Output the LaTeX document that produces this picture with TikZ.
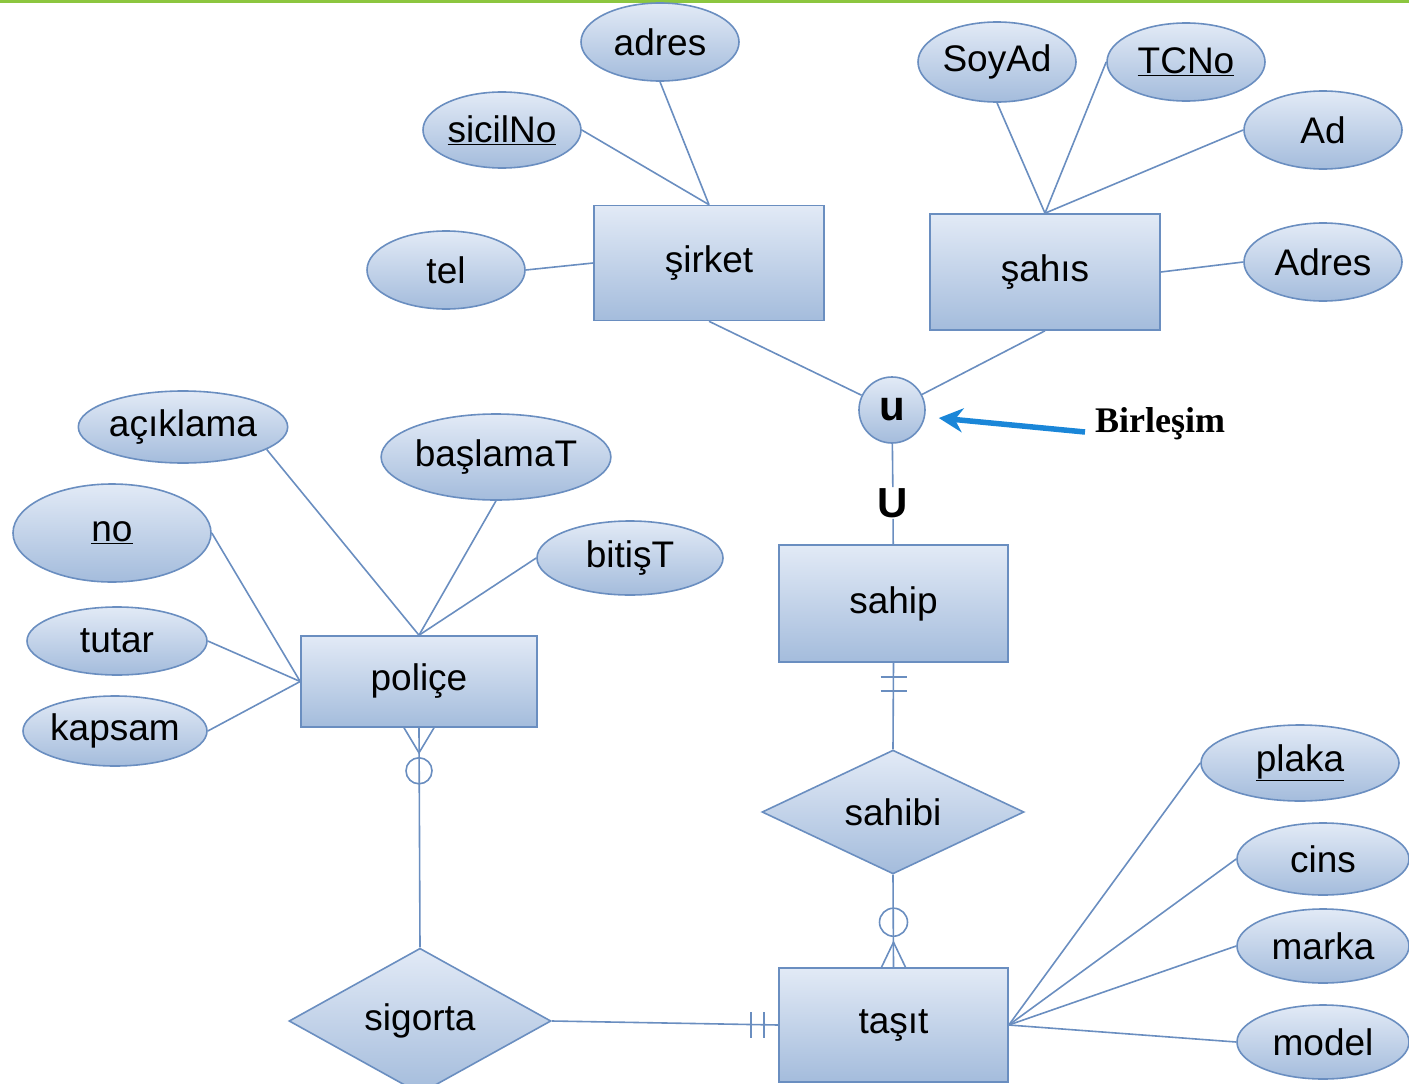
\documentclass[tikz,border=0pt]{standalone}
\usepackage{fontspec}
\setmainfont{Liberation Sans}
\newfontfamily\birfont{Liberation Serif}
\usetikzlibrary{shapes.geometric,arrows.meta}

\definecolor{erTop}{HTML}{E2EAF6}
\definecolor{erBot}{HTML}{A4BCDC}
\definecolor{erLine}{HTML}{6A8EC0}
\definecolor{okMavi}{HTML}{1A86D8}
\definecolor{ustYesil}{HTML}{8CC63F}

\tikzset{
  er/.style={draw=erLine, line width=1.6pt, top color=erTop, bottom color=erBot,
    font=\fontsize{37}{40}\selectfont, inner sep=0pt},
  varlik/.style={er, rectangle, minimum width=230, minimum height=115},
  nitelik/.style={er, ellipse, minimum width=158, minimum height=78},
  iliski/.style={er, diamond, minimum width=262, minimum height=118},
  bag/.style={draw=erLine, line width=1.6pt},
}

\begin{document}
\begin{tikzpicture}[x=1pt, y=-1pt]
  \useasboundingbox (0,0) rectangle (1409,1084);
  \fill[ustYesil] (0,0) rectangle (1409,3);

  % varliklar
  \node[varlik] (sirket) at (709,263) {şirket};
  \node[varlik, minimum height=116] (sahis) at (1045,272) {şahıs};
  \node[varlik, minimum width=229, minimum height=117] (sahip) at (893.5,603.5) {sahip};
  \node[varlik, minimum width=236, minimum height=91] (police) at (419,681.5) {poliçe};
  \node[varlik, minimum width=229, minimum height=114] (tasit) at (893.5,1025) {taşıt};

  % iliskiler
  \node[iliski] (sahibi) at (893,812) {sahibi};
  \node[iliski] (sigorta) at (420,1021) {sigorta};

  % birlesim
  \node[er, circle, minimum size=66, font=\bfseries\fontsize{42}{42}\selectfont] (u) at (892,410) {u};
  \node[fill=white, inner sep=1pt, font=\bfseries\fontsize{42}{42}\selectfont] (birU) at (893,503) {U};

  % nitelikler
  \node[nitelik] (adres) at (660,42) {adres};
  \node[nitelik, minimum height=76] (sicilNo) at (502,130) {\underline{sicilNo}};
  \node[nitelik] (tel) at (446,270) {tel};
  \node[nitelik, minimum height=80] (soyad) at (997,62) {SoyAd};
  \node[nitelik] (tcno) at (1186,62) {\underline{TCNo}};
  \node[nitelik] (ad) at (1323,130) {Ad};
  \node[nitelik] (sAdres) at (1323,262) {Adres};
  \node[nitelik, minimum width=190, minimum height=72] (aciklama) at (183,427) {açıklama};
  \node[nitelik, minimum width=228, minimum height=86] (baslama) at (496,457) {başlamaT};
  \node[nitelik, minimum width=198, minimum height=98] (no) at (112,533) {\underline{no}};
  \node[nitelik, minimum width=186, minimum height=74] (bitis) at (630,558) {bitişT};
  \node[nitelik, minimum width=180, minimum height=68] (tutar) at (117,641) {tutar};
  \node[nitelik, minimum width=184, minimum height=70] (kapsam) at (115,731) {kapsam};
  \node[nitelik, minimum width=198, minimum height=76] (plaka) at (1300,763) {\underline{plaka}};
  \node[nitelik, minimum width=172, minimum height=72] (cins) at (1323,859) {cins};
  \node[nitelik, minimum width=172, minimum height=74] (marka) at (1323,946) {marka};
  \node[nitelik, minimum width=172, minimum height=74] (model) at (1323,1042) {model};

  \draw[bag] (adres.south) -- (sirket.north);
  \draw[bag] (sicilNo.east) -- (sirket.north);
  \draw[bag] (tel.east) -- (sirket.west);
  \draw[bag] (soyad.south) -- (sahis.north);
  \draw[bag] (tcno.west) -- (sahis.north);
  \draw[bag] (ad.west) -- (sahis.north);
  \draw[bag] (sAdres.west) -- (sahis.east);
  \draw[bag] (aciklama.-15) -- (police.north);
  \draw[bag] (baslama.south) -- (police.north);
  \draw[bag] (bitis.west) -- (police.north);
  \draw[bag] (no.east) -- (police.west);
  \draw[bag] (tutar.east) -- (police.west);
  \draw[bag] (kapsam.east) -- (police.west);
  \draw[bag] (plaka.west) -- (tasit.east);
  \draw[bag] (cins.west) -- (tasit.east);
  \draw[bag] (marka.west) -- (tasit.east);
  \draw[bag] (model.west) -- (tasit.east);

  \draw[bag] (sirket.south) -- (u);
  \draw[bag] (sahis.south) -- (u);
  \draw[bag] (u) -- (birU);
  \draw[bag] (birU) -- (sahip);

  % sahip -- sahibi -- tasit
  \draw[bag] (sahip.south) -- (sahibi.north);
  \draw[bag] ([xshift=-13pt,yshift=-14pt]sahip.south) -- ++(26,0);
  \draw[bag] ([xshift=-13pt,yshift=-28pt]sahip.south) -- ++(26,0);
  \draw[bag] (sahibi.south) -- (tasit.north);
  \draw[bag] ([yshift=45pt]tasit.north) circle (14pt);
  \draw[bag] ([xshift=-12pt]tasit.north) -- ([yshift=25pt]tasit.north) -- ([xshift=12pt]tasit.north);

  % police -- sigorta -- tasit
  \draw[bag] (police.south) -- (sigorta.north);
  \draw[bag] ([xshift=-15pt]police.south) -- ([yshift=-25pt]police.south) -- ([xshift=15pt]police.south);
  \draw[bag] ([yshift=-43pt]police.south) circle (13pt);
  \draw[bag] (sigorta.east) -- (tasit.west);
  \draw[bag] ([xshift=-27pt,yshift=13pt]tasit.west) -- ++(0,26);
  \draw[bag] ([xshift=-14pt,yshift=13pt]tasit.west) -- ++(0,26);

  % ok
  \node[font=\birfont\bfseries\fontsize{36}{40}\selectfont] (birlesim) at (1160,424) {Birleşim};
  \coordinate (okUc) at (1085,432);
  \draw[okMavi, line width=5.5pt, -{Stealth[length=24pt,width=24pt]}] (okUc) -- ([xshift=13pt,yshift=-8pt]u.east);
\end{tikzpicture}
\end{document}
